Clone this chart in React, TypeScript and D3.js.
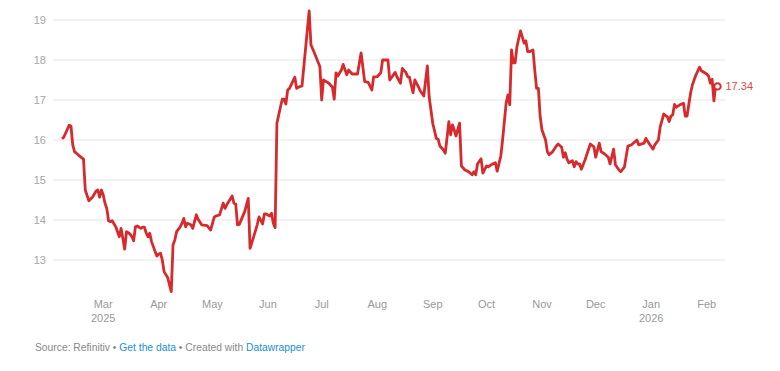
import React from "react";
import * as d3 from "d3";

// trading dates
const dates = [
  "2025-02-06", "2025-02-07", "2025-02-10", "2025-02-11", "2025-02-12", "2025-02-13", "2025-02-15", "2025-02-18",
  "2025-02-19", "2025-02-21", "2025-02-23", "2025-02-25", "2025-02-26", "2025-02-27", "2025-02-28",
  "2025-03-01", "2025-03-02", "2025-03-03", "2025-03-04", "2025-03-05", "2025-03-06", "2025-03-08", "2025-03-10",
  "2025-03-11", "2025-03-12", "2025-03-13", "2025-03-14", "2025-03-16", "2025-03-17", "2025-03-18", "2025-03-19",
  "2025-03-20", "2025-03-22", "2025-03-23", "2025-03-24", "2025-03-25", "2025-03-26", "2025-03-27", "2025-03-28",
  "2025-03-30", "2025-03-31",
  "2025-04-01", "2025-04-02", "2025-04-03", "2025-04-04", "2025-04-06", "2025-04-08", "2025-04-09", "2025-04-10",
  "2025-04-11", "2025-04-13", "2025-04-14", "2025-04-15", "2025-04-16", "2025-04-17", "2025-04-19", "2025-04-20",
  "2025-04-22", "2025-04-23", "2025-04-25", "2025-04-28", "2025-04-30",
  "2025-05-02", "2025-05-03", "2025-05-05", "2025-05-07", "2025-05-08", "2025-05-09", "2025-05-12", "2025-05-13",
  "2025-05-14", "2025-05-15", "2025-05-16", "2025-05-19", "2025-05-21", "2025-05-22", "2025-05-24", "2025-05-26",
  "2025-05-27", "2025-05-29", "2025-05-30", "2025-05-31",
  "2025-06-02", "2025-06-03", "2025-06-04", "2025-06-05", "2025-06-06", "2025-06-08", "2025-06-09", "2025-06-10",
  "2025-06-11", "2025-06-12", "2025-06-13", "2025-06-16", "2025-06-17", "2025-06-18", "2025-06-20", "2025-06-24",
  "2025-06-25", "2025-06-27", "2025-06-30",
  "2025-07-01", "2025-07-02", "2025-07-05", "2025-07-07", "2025-07-08", "2025-07-09", "2025-07-10", "2025-07-12",
  "2025-07-13", "2025-07-15", "2025-07-16", "2025-07-18", "2025-07-21", "2025-07-23", "2025-07-25", "2025-07-27",
  "2025-07-29", "2025-07-30",
  "2025-08-01", "2025-08-03", "2025-08-04", "2025-08-06", "2025-08-07", "2025-08-08", "2025-08-11", "2025-08-12",
  "2025-08-14", "2025-08-15", "2025-08-17", "2025-08-18", "2025-08-19", "2025-08-21", "2025-08-22", "2025-08-24",
  "2025-08-25", "2025-08-27", "2025-08-29", "2025-08-30",
  "2025-09-01", "2025-09-03", "2025-09-04", "2025-09-05", "2025-09-07", "2025-09-08", "2025-09-10", "2025-09-11",
  "2025-09-12", "2025-09-13", "2025-09-14", "2025-09-16", "2025-09-17", "2025-09-19", "2025-09-21", "2025-09-22",
  "2025-09-23", "2025-09-24", "2025-09-25", "2025-09-26", "2025-09-28", "2025-09-29",
  "2025-10-01", "2025-10-02", "2025-10-04", "2025-10-06", "2025-10-07", "2025-10-09", "2025-10-10", "2025-10-12",
  "2025-10-13", "2025-10-14", "2025-10-15", "2025-10-16", "2025-10-17", "2025-10-18", "2025-10-20", "2025-10-21",
  "2025-10-22", "2025-10-23", "2025-10-24", "2025-10-25", "2025-10-27", "2025-10-28", "2025-10-29", "2025-10-30",
  "2025-10-31",
  "2025-11-01", "2025-11-03", "2025-11-04", "2025-11-05", "2025-11-07", "2025-11-09", "2025-11-10", "2025-11-12",
  "2025-11-13", "2025-11-14", "2025-11-15", "2025-11-16", "2025-11-18", "2025-11-19", "2025-11-20", "2025-11-21",
  "2025-11-22", "2025-11-23", "2025-11-25", "2025-11-28", "2025-11-30",
  "2025-12-01", "2025-12-03", "2025-12-04", "2025-12-06", "2025-12-08", "2025-12-09", "2025-12-11", "2025-12-12",
  "2025-12-14", "2025-12-15", "2025-12-17", "2025-12-19", "2025-12-21", "2025-12-24", "2025-12-25", "2025-12-28",
  "2025-12-29", "2025-12-31",
  "2026-01-02", "2026-01-03", "2026-01-05", "2026-01-06", "2026-01-08", "2026-01-10", "2026-01-11", "2026-01-12",
  "2026-01-13", "2026-01-14", "2026-01-15", "2026-01-17", "2026-01-19", "2026-01-20", "2026-01-21", "2026-01-23",
  "2026-01-24", "2026-01-26", "2026-01-28", "2026-01-29",
  "2026-02-01", "2026-02-02", "2026-02-03", "2026-02-04", "2026-02-05", "2026-02-06", "2026-02-07",
];

const values = [
  16.03, 16.07, 16.37, 16.35, 15.88, 15.71, 15.63, 15.52, 14.75, 14.48, 14.57, 14.72, 14.75, 14.57, 14.75,
  14.63, 14.42, 14.29, 13.98, 13.96, 13.98, 13.83, 13.58, 13.79, 13.54, 13.27, 13.71, 13.65, 13.58, 13.48, 13.83,
  13.85, 13.79, 13.82, 13.82, 13.68, 13.58, 13.67, 13.46, 13.21, 13.1,
  13.15, 13.17, 13.0, 12.71, 12.56, 12.21, 13.38, 13.5, 13.71, 13.83, 13.92, 14.04, 13.83, 13.92, 13.88, 13.79,
  14.13, 14.02, 13.88, 13.86, 13.75,
  14.07, 14.1, 14.13, 14.42, 14.29, 14.38, 14.6, 14.42, 14.4, 13.88, 13.89, 14.21, 14.54, 13.29, 13.58, 13.88,
  14.08, 13.9, 14.15, 14.15,
  14.1, 14.17, 13.92, 13.81, 16.42, 16.83, 17.02, 17.02, 16.9, 17.25, 17.29, 17.57, 17.29, 17.32, 17.35, 19.23,
  18.38, 18.17, 17.83,
  17.0, 17.5, 17.42, 17.32, 17.02, 17.68, 17.6, 17.75, 17.89, 17.63, 17.75, 17.65, 17.65, 18.18, 17.46, 17.44,
  17.25, 17.58,
  17.58, 17.68, 18.0, 18.0, 18.0, 17.5, 17.69, 17.58, 17.42, 17.79, 17.69, 17.58, 17.57, 17.18, 17.5, 17.33,
  17.23, 17.1, 17.85, 17.08,
  16.42, 16.04, 16.02, 15.85, 15.75, 15.67, 16.46, 16.13, 16.38, 16.25, 16.1, 16.42, 15.35, 15.25, 15.21, 15.17,
  15.13, 15.21, 15.13, 15.4, 15.53, 15.17,
  15.35, 15.33, 15.39, 15.43, 15.22, 15.6, 16.0, 16.93, 17.13, 16.88, 18.25, 17.93, 17.93, 18.33, 18.73, 18.58,
  18.42, 18.48, 18.21, 18.21, 18.25, 17.73, 17.29, 17.29, 16.58,
  16.25, 16.0, 15.71, 15.63, 15.71, 15.85, 15.9, 15.82, 15.57, 15.68, 15.52, 15.43, 15.48, 15.33, 15.46, 15.4,
  15.4, 15.27, 15.5, 15.9, 15.83,
  15.57, 15.92, 15.71, 15.65, 15.57, 15.4, 15.77, 15.38, 15.25, 15.21, 15.32, 15.85, 15.88, 16.0, 15.88, 15.92,
  16.04, 15.9,
  15.77, 15.88, 16.0, 16.33, 16.65, 16.58, 16.46, 16.6, 16.63, 16.89, 16.82, 16.88, 16.92, 16.6, 16.6, 17.18,
  17.38, 17.63, 17.82, 17.73,
  17.65, 17.6, 17.42, 17.52, 16.98, 17.38, 17.34,
];

const yTicks = [13, 14, 15, 16, 17, 18, 19];
const yearLabels = { 2: "2025", 0: "2026" }; // Mar 2025, Jan 2026

const WIDTH = 780;
const HEIGHT = 371;
const RED = "#d62a2c";
const FONT = "'Liberation Sans', Arial, Helvetica, sans-serif";

export default function App() {
  const parse = d3.timeParse("%Y-%m-%d");
  const data = dates.map((d, i) => ({ date: parse(d) as Date, value: values[i] }));

  const x = d3
    .scaleTime()
    .domain(d3.extent(data, (d) => d.date) as [Date, Date])
    .range([62, 717.5]);
  const y = d3.scaleLinear().domain([13, 19]).range([260, 20]);

  const line = d3
    .line<{ date: Date; value: number }>()
    .x((d) => x(d.date))
    .y((d) => y(d.value));

  const monthTicks = d3.timeMonth.range(new Date(2025, 2, 1), new Date(2026, 1, 2));
  const fmt = d3.timeFormat("%b");
  const last = data[data.length - 1];

  return (
    <svg
      width={WIDTH}
      height={HEIGHT}
      style={{ position: "absolute", left: 0, top: 0, background: "#fff" }}
      fontFamily={FONT}
    >
      {/* grid */}
      <g>
        {yTicks.map((t) => (
          <g key={t}>
            <line x1={53} x2={725} y1={y(t)} y2={y(t)} stroke="#e5e5e5" strokeWidth={1} />
            <text x={46} y={y(t)} dy="0.35em" textAnchor="end" fontSize={11} fill="#a6a6a6">
              {t}
            </text>
          </g>
        ))}
      </g>

      {/* x labels */}
      <g fontSize={11} fill="#999">
        {monthTicks.map((m) => (
          <g key={m.toISOString()}>
            <text x={x(m)} y={308} textAnchor="middle">
              {fmt(m)}
            </text>
            {yearLabels[m.getMonth()] && m.getFullYear() === +yearLabels[m.getMonth()] && (
              <text x={x(m)} y={322} textAnchor="middle">
                {yearLabels[m.getMonth()]}
              </text>
            )}
          </g>
        ))}
      </g>

      <path d={line(data) || ""} fill="none" stroke={RED} strokeWidth={2.8} strokeLinejoin="round" />
      <circle cx={x(last.date)} cy={y(last.value)} r={3.2} fill="#fff" stroke={RED} strokeWidth={2} />
      <text x={x(last.date) + 8} y={y(last.value)} dy="0.35em" fontSize={11} fill="#dc4a4a">
        {last.value.toFixed(2)}
      </text>

      <text x={35} y={351} fontSize={10.3} fill="#888">
        Source: Refinitiv •{" "}
        <tspan fill="#1d8fd6">Get the data</tspan>
        <tspan> • Created with </tspan>
        <tspan fill="#1d8fd6">Datawrapper</tspan>
      </text>
    </svg>
  );
}
